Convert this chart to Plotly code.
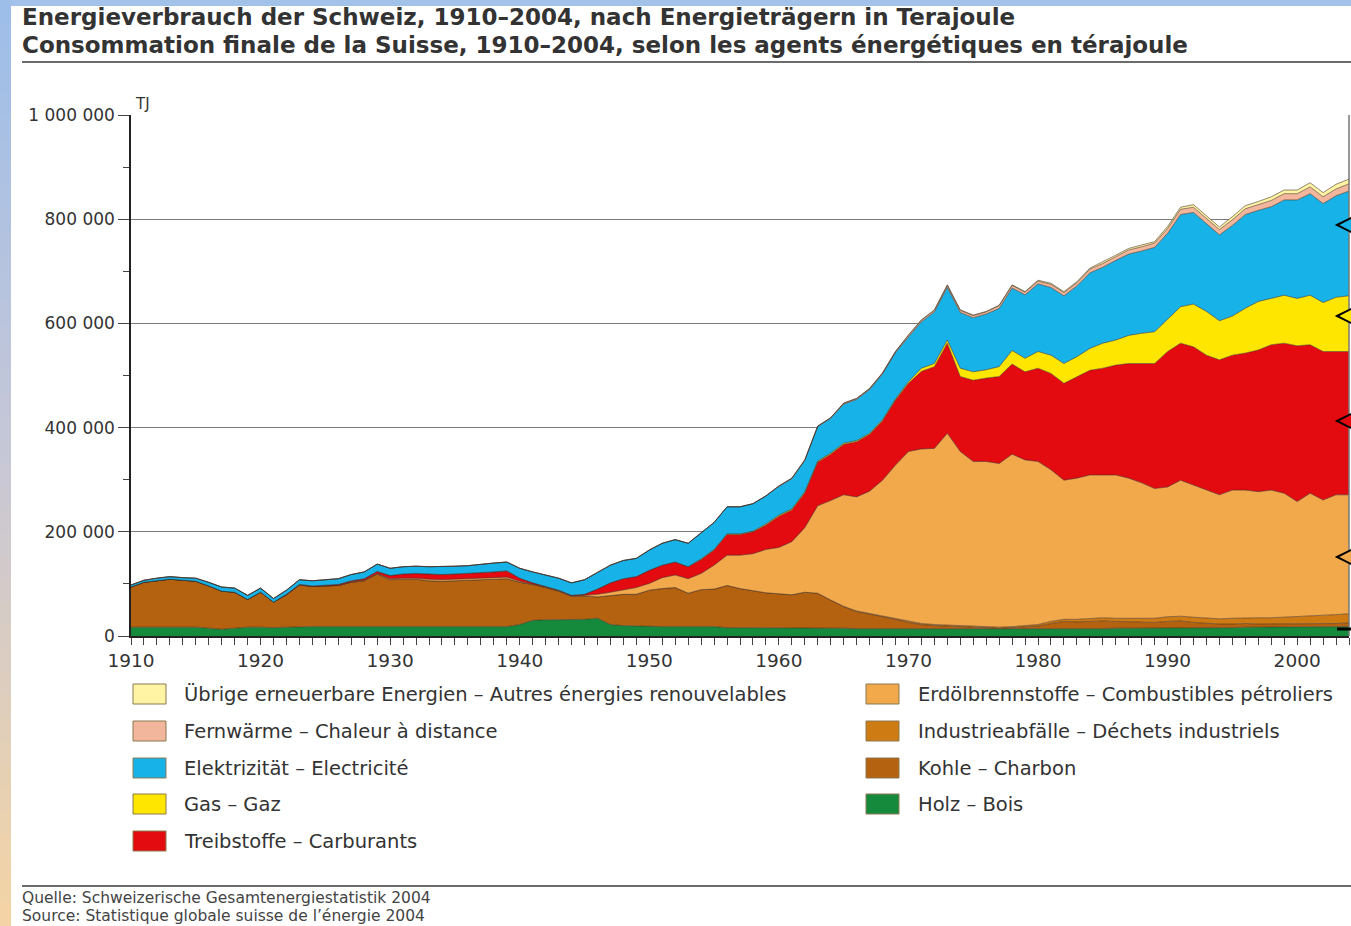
import plotly.graph_objects as go

# ---------------- data (thousand TJ) ----------------
years = list(range(1910, 2005))

holz = [17,17,17,17,17,17,15,13,15,17,
        17,16,17,18,18,18,18,18,18,18,
        18,18,18,18,18,18,18,18,18,18,
        22,30,31,31,31,32,34,22,20,19,
        19,18,18,18,18,18,16,16,16,16,
        16,15,15,15,15,15,14,14,14,14,
        14,13,13,13,13,13,13,13,13,13,
        13,14,14,14,14,14,15,15,15,15,
        15,16,16,16,16,16,17,17,17,17,
        17,18,18,18,18]
kohle = [77,86,89,92,90,88,81,73,69,53,
         67,49,62,80,77,78,79,85,88,101,
         90,91,91,88,87,88,89,90,90,92,
         81,69,62,55,45,45,41,55,60,61,
         69,73,75,64,71,72,81,75,71,67,
         65,64,69,67,54,41,33,28,24,18,
         12,9,7,6,5,3,2,2,3,4,
         6,10,14,13,14,15,13,12,11,11,
         13,13,10,8,7,7,7,6,6,6,
         6,6,6,6,7]
industrie = [0]*55 + [1,1,1,1,1,
             2,2,2,2,2,2,2,2,2,3,
             3,4,4,5,5,6,6,7,7,8,
             9,9,10,10,10,11,11,12,12,13,
             14,15,16,17,18]
erdoel = [0,0,0,0,0,0,0,0,0,0,
          0,0,0,0,0,0,0,1,1,1,
          2,2,2,3,3,3,3,3,3,3,
          2,1,1,1,1,1,5,7,9,13,
          13,21,24,28,31,46,58,64,71,83,
          89,102,124,168,191,214,219,235,260,295,
          326,335,338,368,334,317,318,314,331,318,
          313,291,267,271,276,274,275,269,261,249,
          249,261,254,246,238,246,245,242,245,238,
          221,235,221,230,228]
treib = [0,0,0,0,0,0,0,0,0,0,
         0,0,1,1,1,2,2,2,3,4,
         6,8,9,10,10,10,10,11,12,12,
         6,2,1,1,1,2,10,18,21,21,
         25,24,25,23,27,29,40,40,42,47,
         60,61,67,84,89,97,106,109,114,125,
         131,149,157,173,144,156,160,167,173,169,
         179,185,186,195,201,205,211,220,229,240,
         260,263,265,259,259,259,263,272,279,288,
         299,285,285,275,275]
gas = [0]*40 + [0,0,0,0,1,1,1,1,1,2,
       2,2,2,2,2,2,2,2,2,2,
       3,6,6,6,16,16,16,19,26,26,
       32,35,38,38,42,48,48,54,58,61,
       62,70,82,84,75,75,86,93,89,92,
       91,95,94,104,107]
elektro = [4,4,5,5,5,6,7,8,8,8,
           8,7,8,9,10,10,11,12,13,14,
           14,14,14,14,15,15,15,16,17,17,
           19,21,22,23,24,28,32,34,35,35,
           39,42,43,45,50,52,52,52,53,54,
           55,58,60,66,67,75,79,84,88,89,
           86,89,99,101,107,104,107,112,120,122,
           130,130,130,136,145,146,153,156,158,162,
           165,177,176,168,165,174,180,175,176,183,
           189,195,190,195,201]
fernwaerme = [0]*50 + [1,1,1,1,1,2,2,2,2,2,
              3,3,3,4,4,4,4,5,5,5,
              5,6,6,6,7,7,7,8,8,8,
              9,10,10,10,10,11,11,11,12,12,
              12,13,13,13,14]
uebrige = [0]*60 + [1,1,1,1,1,1,1,1,1,1,
           2,2,2,2,2,3,3,3,3,3,
           4,4,5,5,5,6,6,6,7,7,
           7,8,8,9,9]

y_ticks = [0, 200000, 400000, 600000, 800000, 1000000]
y_ticklabels = ["0", "200 000", "400 000", "600 000", "800 000", "1 000 000"]
x_ticks = [1910, 1920, 1930, 1940, 1950, 1960, 1970, 1980, 1990, 2000]

series = [
    ("Holz – Bois", holz, "#168a3c"),
    ("Kohle – Charbon", kohle, "#b4620f"),
    ("Industrieabfälle – Déchets industriels", industrie, "#cf7b14"),
    ("Erdölbrennstoffe – Combustibles pétroliers", erdoel, "#f2a94c"),
    ("Treibstoffe – Carburants", treib, "#e30a10"),
    ("Gas – Gaz", gas, "#ffe600"),
    ("Elektrizität – Electricité", elektro, "#17b2e7"),
    ("Fernwärme – Chaleur à distance", fernwaerme, "#f2b69c"),
    ("Übrige erneuerbare Energien – Autres énergies renouvelables", uebrige, "#fff4a3"),
]

legend_left = [
    ("Übrige erneuerbare Energien – Autres énergies renouvelables", "#fff4a3"),
    ("Fernwärme – Chaleur à distance", "#f2b69c"),
    ("Elektrizität – Electricité", "#17b2e7"),
    ("Gas – Gaz", "#ffe600"),
    ("Treibstoffe – Carburants", "#e30a10"),
]
legend_right = [
    ("Erdölbrennstoffe – Combustibles pétroliers", "#f2a94c"),
    ("Industrieabfälle – Déchets industriels", "#cf7b14"),
    ("Kohle – Charbon", "#b4620f"),
    ("Holz – Bois", "#168a3c"),
]

# ---------------- layout geometry (pixels) ----------------
W, H = 1351, 926
ML, MR, MT, MB = 131, 2, 115, 290
PW = W - ML - MR
PH = H - MT - MB


def fx(x):
    return (x - ML) / PW


def fy(y):
    return (H - MB - y) / PH


fig = go.Figure()
for name, vals, col in series:
    fig.add_trace(go.Scatter(
        x=years, y=[v * 1000 for v in vals], name=name, mode="lines",
        stackgroup="one", fillcolor=col,
        line=dict(width=1, color="rgba(60,40,30,0.55)"),
        showlegend=False,
    ))

shapes = []
annotations = []

# page decorations: top stripe and left gradient strip
shapes.append(dict(type="rect", xref="paper", yref="paper", x0=fx(0), x1=fx(W),
                   y0=fy(0), y1=fy(6), fillcolor="#a3c2ea", line=dict(width=0), layer="below"))
top_c = (158, 190, 234)
mid_c = (200, 200, 214)
bot_c = (244, 212, 166)
n = 40
for i in range(n):
    t = i / (n - 1)
    if t < 0.5:
        a, b, s = top_c, mid_c, t / 0.5
    else:
        a, b, s = mid_c, bot_c, (t - 0.5) / 0.5
    c = tuple(int(a[k] + (b[k] - a[k]) * s) for k in range(3))
    y0 = i * H / n
    y1 = (i + 1) * H / n + 1
    shapes.append(dict(type="rect", xref="paper", yref="paper", x0=fx(0), x1=fx(11),
                       y0=fy(y0), y1=fy(y1), fillcolor="rgb(%d,%d,%d)" % c,
                       line=dict(width=0), layer="below"))

# title rule and footer rule
shapes.append(dict(type="line", xref="paper", yref="paper", x0=fx(22), x1=fx(W),
                   y0=fy(62), y1=fy(62), line=dict(color="#6b6b6b", width=2)))
shapes.append(dict(type="line", xref="paper", yref="paper", x0=fx(22), x1=fx(W),
                   y0=fy(886), y1=fy(886), line=dict(color="#6b6b6b", width=2)))
# right frame line
shapes.append(dict(type="line", xref="paper", yref="paper", x0=fx(1349), x1=fx(1349),
                   y0=fy(115), y1=fy(636), line=dict(color="#777777", width=1.5)))

# right-edge arrow markers
for yy, col in [(225, "#17b2e7"), (316, "#ffe600"), (421, "#e30a10"), (557, "#f2a94c")]:
    path = "M %f,%f L %f,%f L %f,%f Z" % (fx(1337), fy(yy), fx(1353), fy(yy - 8), fx(1353), fy(yy + 8))
    shapes.append(dict(type="path", xref="paper", yref="paper", path=path,
                       fillcolor=col, line=dict(color="black", width=2)))
shapes.append(dict(type="line", xref="paper", yref="paper", x0=fx(1337), x1=fx(1352),
                   y0=fy(629), y1=fy(629), line=dict(color="black", width=3)))

# titles
title_font = dict(family="DejaVu Sans", size=23, color="#333333")
annotations.append(dict(xref="paper", yref="paper", x=fx(20), y=fy(17), xanchor="left", yanchor="middle",
                        text="<b>Energieverbrauch der Schweiz, 1910–2004, nach Energieträgern in Terajoule</b>",
                        showarrow=False, font=title_font))
annotations.append(dict(xref="paper", yref="paper", x=fx(20), y=fy(45), xanchor="left", yanchor="middle",
                        text="<b>Consommation finale de la Suisse, 1910–2004, selon les agents énergétiques en térajoule</b>",
                        showarrow=False, font=title_font))
annotations.append(dict(xref="paper", yref="paper", x=fx(133), y=fy(104), xanchor="left", yanchor="middle",
                        text="TJ", showarrow=False, font=dict(family="DejaVu Sans", size=15, color="#333")))

# legend
leg_font = dict(family="DejaVu Sans", size=19.5, color="#333333")
rows = [694, 731, 768, 804, 841]
for (label, col), yy in zip(legend_left, rows):
    shapes.append(dict(type="rect", xref="paper", yref="paper", x0=fx(133), x1=fx(166),
                       y0=fy(yy - 10), y1=fy(yy + 10), fillcolor=col,
                       line=dict(color="#8a7a50", width=1)))
    annotations.append(dict(xref="paper", yref="paper", x=fx(182), y=fy(yy), xanchor="left",
                            yanchor="middle", text=label, showarrow=False, font=leg_font))
for (label, col), yy in zip(legend_right, rows):
    shapes.append(dict(type="rect", xref="paper", yref="paper", x0=fx(866), x1=fx(899),
                       y0=fy(yy - 10), y1=fy(yy + 10), fillcolor=col,
                       line=dict(color="#8a7a50", width=1)))
    annotations.append(dict(xref="paper", yref="paper", x=fx(916), y=fy(yy), xanchor="left",
                            yanchor="middle", text=label, showarrow=False, font=leg_font))

# footer
foot_font = dict(family="DejaVu Sans", size=15.5, color="#444444")
annotations.append(dict(xref="paper", yref="paper", x=fx(20), y=fy(898), xanchor="left", yanchor="middle",
                        text="Quelle: Schweizerische Gesamtenergiestatistik 2004", showarrow=False, font=foot_font))
annotations.append(dict(xref="paper", yref="paper", x=fx(20), y=fy(916), xanchor="left", yanchor="middle",
                        text="Source: Statistique globale suisse de l’énergie 2004", showarrow=False, font=foot_font))

fig.update_layout(
    width=W, height=H,
    margin=dict(l=ML, r=MR, t=MT, b=MB, pad=0),
    paper_bgcolor="white", plot_bgcolor="white",
    shapes=shapes, annotations=annotations,
    showlegend=False,
    xaxis=dict(range=[1910, 2004], tickvals=x_ticks, ticks="outside", ticklen=7, tickwidth=1,
               tickcolor="#444", showgrid=False, zeroline=False, showline=True, linecolor="#222",
               linewidth=1.5, tickfont=dict(family="DejaVu Sans", size=18.5, color="#333"),
               minor=dict(dtick=1, ticks="outside", ticklen=7, tickcolor="#444", showgrid=False)),
    yaxis=dict(range=[0, 1000000], tickvals=y_ticks, ticktext=y_ticklabels, ticks="outside",
               ticklen=11, tickcolor="#444", showgrid=True, gridcolor="#7a7a7a", gridwidth=1.3,
               zeroline=False, showline=True, linecolor="#222", linewidth=1.5,
               tickfont=dict(family="DejaVu Sans", size=17, color="#333"),
               minor=dict(dtick=100000, ticks="outside", ticklen=6, tickcolor="#444", showgrid=False)),
)

fig.write_html("out.html", config={"displayModeBar": False},
               post_script="document.body.style.margin='0';document.body.style.overflow='hidden';")
